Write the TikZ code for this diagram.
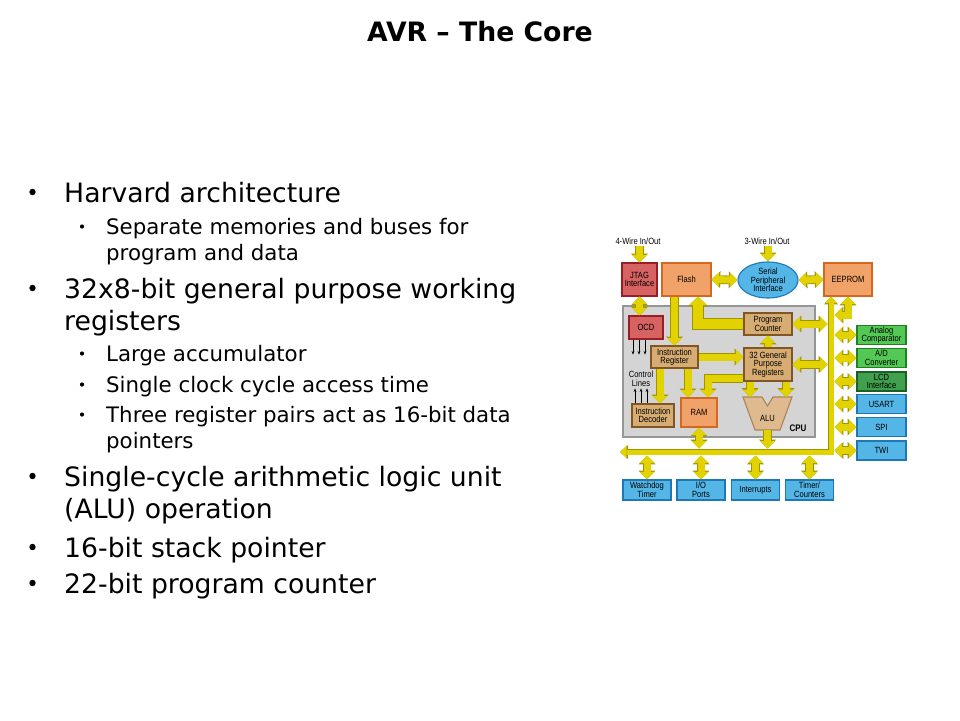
\documentclass[tikz,border=0pt]{standalone}
\usepackage{fontspec}
\setmainfont{DejaVu Sans}
\newfontfamily\diafont{Liberation Sans}[FakeStretch=0.84]
\usepackage{tikz}
\usetikzlibrary{shapes.geometric, arrows.meta, positioning}
\definecolor{busfill}{RGB}{226,210,0}
\definecolor{busedge}{RGB}{160,146,0}
\definecolor{cpufill}{RGB}{212,212,212}
\definecolor{cpuedge}{RGB}{150,150,150}
\definecolor{redfill}{RGB}{214,98,98}
\definecolor{rededge}{RGB}{150,30,36}
\definecolor{orangefill}{RGB}{240,162,104}
\definecolor{orangeedge}{RGB}{212,104,32}
\definecolor{brownfill}{RGB}{214,172,114}
\definecolor{brownedge}{RGB}{130,86,36}
\definecolor{alufill}{RGB}{222,186,142}
\definecolor{aluedge}{RGB}{172,132,92}
\definecolor{greenfill}{RGB}{84,200,84}
\definecolor{greenedge}{RGB}{30,130,34}
\definecolor{dkgreenfill}{RGB}{64,160,78}
\definecolor{dkgreenedge}{RGB}{24,96,40}
\definecolor{bluefill}{RGB}{84,182,230}
\definecolor{blueedge}{RGB}{30,120,180}

\tikzset{
  lvlone/.style={anchor=base west, inner sep=0pt, font=\fontsize{26.67}{32}\selectfont},
  lvltwo/.style={anchor=base west, inner sep=0pt, font=\fontsize{21.33}{25.6}\selectfont},
  blk/.style={draw, line width=1.1pt, inner sep=0pt, align=center, font=\diafont\fontsize{9}{8.5}\selectfont},
  redblk/.style={blk, fill=redfill, draw=rededge},
  orangeblk/.style={blk, fill=orangefill, draw=orangeedge},
  brownblk/.style={blk, fill=brownfill, draw=brownedge},
  greenblk/.style={blk, fill=greenfill, draw=greenedge, minimum width=49, minimum height=19},
  dkgreenblk/.style={blk, fill=dkgreenfill, draw=dkgreenedge, minimum width=49, minimum height=19},
  blueblk/.style={blk, fill=bluefill, draw=blueedge, minimum width=49, minimum height=19},
  lowblk/.style={blk, fill=bluefill, draw=blueedge, minimum width=48, minimum height=20},
  wirelbl/.style={inner sep=1pt, font=\diafont\fontsize{9}{9.5}\selectfont},
  fat/.style={line width=7pt, draw=busfill, line join=miter,
    -{Triangle[width=15pt,length=7.5pt,line width=0pt]},
    preaction={draw=busedge, line width=8.6pt, line join=miter, -{Triangle[width=17pt,length=8.8pt,line width=0pt]}}},
  fatboth/.style={line width=7pt, draw=busfill, line join=miter,
    {Triangle[width=15pt,length=7.5pt,line width=0pt]}-{Triangle[width=15pt,length=7.5pt,line width=0pt]},
    preaction={draw=busedge, line width=8.6pt, line join=miter, {Triangle[width=17pt,length=8.8pt,line width=0pt]}-{Triangle[width=17pt,length=8.8pt,line width=0pt]}}},
  widefat/.style={line width=10pt, draw=busfill, line join=miter,
    -{Triangle[width=18pt,length=8.5pt,line width=0pt]},
    preaction={draw=busedge, line width=11.6pt, line join=miter, -{Triangle[width=20pt,length=9.8pt,line width=0pt]}}},
  busline/.style={line width=5pt, draw=busfill, line join=miter,
    {Triangle[width=12pt,length=6.5pt,line width=0pt]}-{Triangle[width=12pt,length=6.5pt,line width=0pt]},
    preaction={draw=busedge, line width=6.6pt, line join=miter, {Triangle[width=14pt,length=7.8pt,line width=0pt]}-{Triangle[width=14pt,length=7.8pt,line width=0pt]}}},
  sigline/.style={line width=0.6pt, -{Stealth[length=3.5pt,width=2.8pt]}},
}

\begin{document}
\begin{tikzpicture}[x=1pt, y=-1pt]
  \fill[white] (0,0) rectangle (960,720);
  \useasboundingbox (0,0) rectangle (960,720);

  % title
  \node[font=\bfseries\fontsize{26.67}{32}\selectfont, anchor=base, inner sep=0pt] (title) at (480,41.7) {AVR -- The Core};

  % bullet list
  \node[lvlone] (harvard) at (64,202) {Harvard architecture};
  \node[lvltwo] (separate) at (106,234) {Separate memories and buses for};
  \node[lvltwo] (separatec) at (106,260) {program and data};
  \node[lvlone] (regs) at (64,298) {32x8-bit general purpose working};
  \node[lvlone] (regsc) at (64,330) {registers};
  \node[lvltwo] (accu) at (106,361) {Large accumulator};
  \node[lvltwo] (access) at (106,392) {Single clock cycle access time};
  \node[lvltwo] (pairs) at (106,422) {Three register pairs act as 16-bit data};
  \node[lvltwo] (pairsc) at (106,448) {pointers};
  \node[lvlone] (alucycle) at (64,486) {Single-cycle arithmetic logic unit};
  \node[lvlone] (alucyclec) at (64,518) {(ALU) operation};
  \node[lvlone] (stack) at (64,557) {16-bit stack pointer};
  \node[lvlone] (counter) at (64,593) {22-bit program counter};
  \foreach \y in {202,298,486,557,593} \fill (32.5,\y-10) circle (3.2pt);
  \foreach \y in {234,361,392,422} \fill (82,\y-7.5) circle (2.1pt);

  % core diagram
  \node[draw=cpuedge, fill=cpufill, line width=1.6pt, minimum width=192, minimum height=131, inner sep=0pt] (cpu) at (719,371.5) {};
  \node[font=\diafont\bfseries\fontsize{9.5}{10}\selectfont, inner sep=0pt] (cpulbl) at (798,428) {CPU};

  \node[wirelbl] (wire4) at (638,241) {4-Wire In/Out};
  \node[wirelbl] (wire3) at (767,241) {3-Wire In/Out};
  \node[redblk, minimum width=35, minimum height=33] (jtag) at (639.5,279.5) {JTAG\\Interface};
  \node[orangeblk, minimum width=49, minimum height=33] (flash) at (686.5,279.5) {Flash};
  \node[blk, ellipse, fill=bluefill, draw=blueedge, minimum width=60, minimum height=36] (spi) at (768,280) {Serial\\Peripheral\\Interface};
  \node[orangeblk, minimum width=48, minimum height=33] (eeprom) at (848,279.5) {EEPROM};
  \node[redblk, minimum width=34, minimum height=23] (ocd) at (646,327.5) {OCD};
  \node[brownblk, minimum width=48, minimum height=22] (pc) at (768,324) {Program\\Counter};
  \node[brownblk, minimum width=47, minimum height=22] (ir) at (674.5,357) {Instruction\\Register};
  \node[brownblk, minimum width=48, minimum height=33] (gpr) at (768,364.5) {32 General\\Purpose\\Registers};
  \node[orangeblk, minimum width=36, minimum height=29] (ram) at (699,412.5) {RAM};
  \node[brownblk, minimum width=42, minimum height=23] (dec) at (653,415.5) {Instruction\\Decoder};
  \node[align=center, inner sep=0pt, font=\diafont\fontsize{9}{8.5}\selectfont] (ctl) at (641,379) {Control\\Lines};
  \draw[fill=alufill, draw=aluedge, line width=1.1pt] (743,397) -- (762,397) -- (767.5,406) -- (773,397) -- (792,397) -- (780,430) -- (755,430) -- cycle;
  \node[inner sep=0pt, font=\diafont\fontsize{9}{8.5}\selectfont] (alu) at (767.5,418) {ALU};
  \coordinate (alutop) at (767.5,397);
  \coordinate (alubot) at (767.5,430);

  \node[greenblk] (acomp) at (881.5,335) {Analog\\Comparator};
  \node[greenblk] (adc) at (881.5,358) {A/D\\Converter};
  \node[dkgreenblk] (lcd) at (881.5,381.5) {LCD\\Interface};
  \node[blueblk] (usart) at (881.5,404) {USART};
  \node[blueblk] (spiport) at (881.5,427) {SPI};
  \node[blueblk] (twi) at (881.5,450.5) {TWI};

  \node[lowblk] (wdt) at (647,490) {Watchdog\\Timer};
  \node[lowblk] (ioport) at (701,490) {I/O\\Ports};
  \node[lowblk] (irq) at (755.5,490) {Interrupts};
  \node[lowblk] (timer) at (809.5,490) {Timer/\\Counters};

  % data bus
  \coordinate (busleft) at (620,452);
  \coordinate (busR) at (834.5,452);
  \coordinate (busL) at (827.5,452);
  \coordinate (busT) at (831,448.5);
  \coordinate (busB) at (831,455.5);
  \coordinate (eejoin) at (834.5,315);
  \draw[busline] (busleft) -| ([xshift=-17pt]eeprom.south);
  \draw[fatboth] (eeprom.south) |- (eejoin);

  % connections
  \draw[fat] (jtag.north |- wire4.south) -- (jtag.north);
  \draw[fat] (spi.north |- wire3.south) -- (spi.north);
  \draw[fatboth] (jtag.south) -- (jtag.south |- ocd.north);
  \draw[fatboth] (flash.east) -- (spi.west);
  \draw[fatboth] (spi.east) -- (eeprom.west);
  \draw[fat] (flash.south -| ir.north) -- (ir.north);
  \draw[widefat] (pc.west) -| ([xshift=11.5pt]flash.south);
  \draw[fat] (ir.east) -- (ir.east -| gpr.west);
  \draw[fat] (gpr.north) -- (pc.south);
  \draw[fat] ([xshift=-14.5pt]ir.south) -- ([xshift=-14.5pt]ir.south |- dec.north);
  \draw[fat] ([xshift=13.5pt]ir.south) -- ([xshift=13.5pt]ir.south |- ram.north);
  \draw[fat] ([yshift=-14pt]gpr.west) -| ([xshift=9pt]ram.north);
  \draw[fat] ([xshift=-18pt]gpr.south) -- ([xshift=-18pt]gpr.south |- alutop);
  \draw[fat] ([xshift=18pt]gpr.south) -- ([xshift=18pt]gpr.south |- alutop);
  \draw[fat] (alubot) -- (alubot |- busT);
  \draw[fatboth] (ram.south) -- (ram.south |- busT);
  \draw[fatboth] (pc.east) -- (pc.east -| busL);
  \draw[fatboth] (gpr.east) -- (gpr.east -| busL);
  \draw[fatboth] (acomp.west -| busR) -- (acomp.west);
  \draw[fatboth] (adc.west -| busR) -- (adc.west);
  \draw[fatboth] (lcd.west -| busR) -- (lcd.west);
  \draw[fatboth] (usart.west -| busR) -- (usart.west);
  \draw[fatboth] (spiport.west -| busR) -- (spiport.west);
  \draw[fatboth] (twi.west -| busR) -- (twi.west);
  \draw[fatboth] (wdt.north |- busB) -- (wdt.north);
  \draw[fatboth] (ioport.north |- busB) -- (ioport.north);
  \draw[fatboth] (irq.north |- busB) -- (irq.north);
  \draw[fatboth] (timer.north |- busB) -- (timer.north);
  \foreach \dx in {-13,-7,-1} \draw[sigline] ([xshift=\dx pt]ocd.south) -- ++(0,15);
  \foreach \dx in {-18,-12,-6} \draw[sigline] ([xshift=\dx pt]dec.north) -- ++(0,-15);
\end{tikzpicture}
\end{document}
